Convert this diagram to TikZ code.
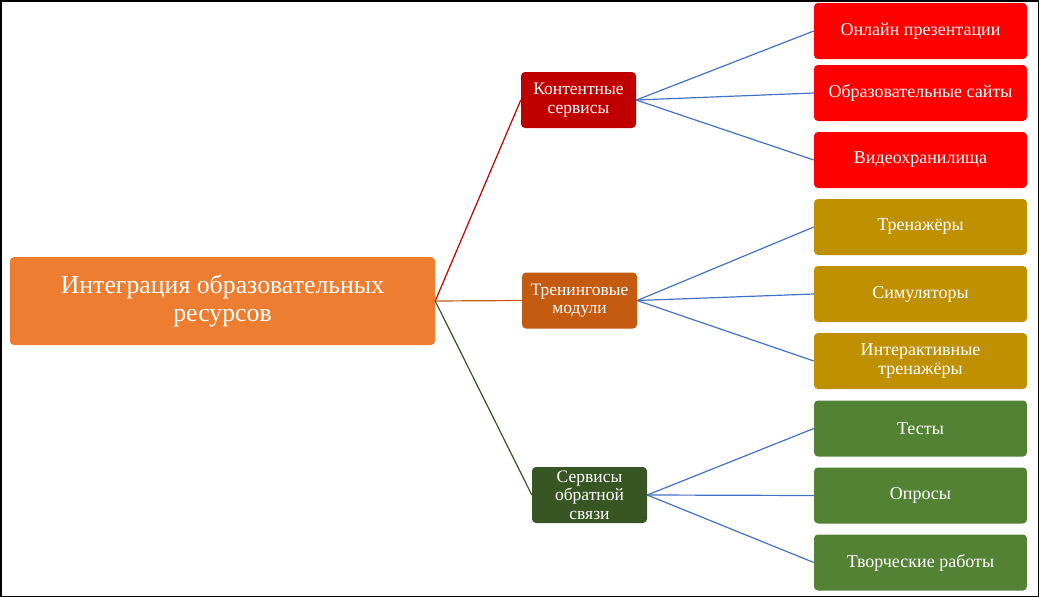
\documentclass[tikz,border=0pt]{standalone}
\usepackage{fontspec}
\setmainfont{Liberation Serif}
\usetikzlibrary{positioning}
\definecolor{rootc}{HTML}{ED7D31}
\definecolor{contc}{HTML}{C00000}
\definecolor{trainc}{HTML}{C55A11}
\definecolor{feedc}{HTML}{375623}
\definecolor{leafred}{HTML}{FF0000}
\definecolor{leafgold}{HTML}{BF9000}
\definecolor{leafgreen}{HTML}{548235}
\definecolor{linkc}{HTML}{4472C4}

\begin{document}
\begin{tikzpicture}[x=1pt,y=-1pt]

	\tikzstyle{box}=[rounded corners=4pt,text=white,align=center,inner sep=2pt]
	\tikzstyle{mid}=[box,minimum width=115pt,minimum height=56pt,font=\rmfamily\fontsize{17.5}{18.5}\selectfont]
	\tikzstyle{leaf}=[box,minimum width=213pt,minimum height=56pt,font=\rmfamily\fontsize{18}{19}\selectfont]
	\tikzstyle{link}=[line width=1.2pt,linkc]

	\useasboundingbox (0,0) rectangle (1039,597);
	\draw [line width=1.5pt] (0.75,0.75) rectangle (1038.25,596.25);

	\node [box,fill=rootc,minimum width=425pt,minimum height=88pt,font=\rmfamily\fontsize{25.8}{28}\selectfont] (r) at (222.5,301) {Интеграция образовательных\\ресурсов};

	\node [mid,fill=contc]  (c) at (578.5,100) {Контентные\\сервисы};
	\node [mid,fill=trainc] (t) at (579.5,300.5) {Тренинговые\\модули};
	\node [mid,fill=feedc]  (f) at (589.5,495) {Сервисы\\обратной\\связи};

	\node [leaf,fill=leafred]   (c1) at (920.5,31)  {Онлайн презентации};
	\node [leaf,fill=leafred]   (c2) at (920.5,93)  {Образовательные сайты};
	\node [leaf,fill=leafred]   (c3) at (920.5,160) {Видеохранилища};
	\node [leaf,fill=leafgold]  (t1) at (920.5,227) {Тренажёры};
	\node [leaf,fill=leafgold]  (t2) at (920.5,294) {Симуляторы};
	\node [leaf,fill=leafgold]  (t3) at (920.5,361) {Интерактивные\\тренажёры};
	\node [leaf,fill=leafgreen] (f1) at (920.5,428.5) {Тесты};
	\node [leaf,fill=leafgreen] (f2) at (920.5,495.5) {Опросы};
	\node [leaf,fill=leafgreen] (f3) at (920.5,562.5) {Творческие работы};

	\draw [line width=1.2pt,contc]  (r.east) -- (c.west);
	\draw [line width=1.2pt,trainc] (r.east) -- (t.west);
	\draw [line width=1.2pt,feedc]  (r.east) -- (f.west);

	\path [link]	(c.east) edge (c1.west) edge (c2.west) edge (c3.west)
		(t.east) edge (t1.west) edge (t2.west) edge (t3.west)
		(f.east) edge (f1.west) edge (f2.west) edge (f3.west);
\end{tikzpicture}
\end{document}
